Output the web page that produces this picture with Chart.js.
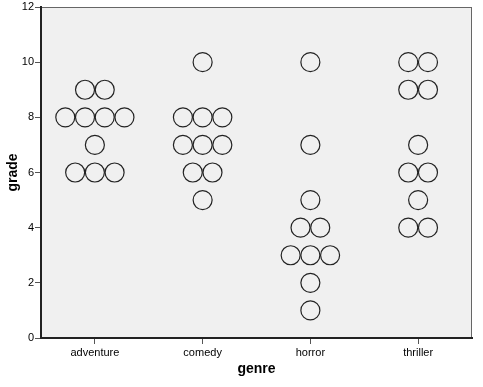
<!DOCTYPE html>
<html>
<head>
<meta charset="utf-8">
<script src="https://cdn.jsdelivr.net/npm/chart.js@4"></script>
<style>
  html, body { margin: 0; padding: 0; background: #fff; }
  #wrap { width: 483px; height: 387px; }
</style>
</head>
<body>
<div id="wrap"><canvas id="myChart"></canvas></div>
<script>
var genres = ['adventure', 'comedy', 'horror', 'thriller'];
var adventureGrades = [9, 9, 8, 8, 8, 8, 7, 6, 6, 6];
var comedyGrades = [10, 8, 8, 8, 7, 7, 7, 6, 6, 5];
var horrorGrades = [10, 7, 5, 4, 4, 3, 3, 3, 2, 1];
var thrillerGrades = [10, 10, 9, 9, 7, 6, 6, 5, 4, 4];
var gradeTicks = [0, 2, 4, 6, 8, 10, 12];

var allGrades = [adventureGrades, comedyGrades, horrorGrades, thrillerGrades];
var DOT_STEP = 0.183; // horizontal spacing between stacked dots, in category units

// build dot positions: dots with the same grade sit side by side, centred on the genre
function buildPoints() {
    var pts = [];
    allGrades.forEach(function(grades, gi){
        var counts = {};
        grades.forEach(function(g){ counts[g] = (counts[g] || 0) + 1; });
        Object.keys(counts).forEach(function(g){
            var n = counts[g];
            for (var i = 0; i < n; i++) {
                pts.push({ x: gi + 1 + (i - (n - 1) / 2) * DOT_STEP, y: Number(g) });
            }
        });
    });
    return pts;
}

var plotBg = {
    id: 'plotBg',
    beforeDraw: function(chart){
        var a = chart.chartArea, ctx = chart.ctx;
        ctx.save();
        ctx.fillStyle = '#f0f0f0';
        ctx.fillRect(a.left, a.top, a.right - a.left, a.bottom - a.top);
        ctx.strokeStyle = '#666';
        ctx.lineWidth = 1;
        ctx.strokeRect(a.left + 0.5, a.top + 0.5, a.right - a.left - 1, a.bottom - a.top - 1);
        ctx.restore();
    }
};

var CHART = document.getElementById('myChart');
Chart.defaults.font.family = "'Liberation Sans', Arial, sans-serif";
Chart.defaults.color = '#000';

var myChart = new Chart(CHART, {
    type: 'scatter',
    data: {
        datasets: [{
            label: 'grade',
            data: buildPoints(),
            pointRadius: 9.5,
            pointHoverRadius: 9.5,
            pointBorderWidth: 1.2,
            pointBorderColor: '#222',
            pointBackgroundColor: 'rgba(0,0,0,0)'
        }]
    },
    plugins: [plotBg],
    options: {
        responsive: true,
        maintainAspectRatio: false,
        animation: false,
        layout: { autoPadding: false, padding: { top: 7, right: 11, left: 3, bottom: 9 } },
        plugins: {
            legend: { display: false },
            tooltip: { enabled: false }
        },
        scales: {
            x: {
                type: 'linear',
                min: 0.5,
                max: 4.5,
                afterBuildTicks: function(scale){
                    scale.ticks = genres.map(function(g, i){ return { value: i + 1 }; });
                },
                afterFit: function(scale){ scale.height = 40; },
                ticks: {
                    font: { size: 11 },
                    padding: 2,
                    maxRotation: 0,
                    callback: function(v){ return genres[Math.round(v) - 1]; }
                },
                grid: {
                    drawOnChartArea: false,
                    drawTicks: true,
                    tickLength: 6,
                    color: '#555'
                },
                border: { display: true, color: '#222', width: 2 },
                title: {
                    display: true,
                    text: 'genre',
                    font: { size: 14, weight: 'bold' },
                    padding: { top: 2, bottom: 0 }
                }
            },
            y: {
                min: 0,
                max: 12,
                afterBuildTicks: function(scale){
                    scale.ticks = gradeTicks.map(function(v){ return { value: v }; });
                },
                afterFit: function(scale){
                    scale.width = 38;
                    scale.paddingTop = 0;
                    scale.paddingBottom = 0;
                },
                ticks: {
                    font: { size: 11 },
                    padding: 1
                },
                grid: {
                    drawOnChartArea: false,
                    drawTicks: true,
                    tickLength: 6,
                    color: '#555'
                },
                border: { display: true, color: '#222', width: 2 },
                title: {
                    display: true,
                    text: 'grade',
                    font: { size: 14, weight: 'bold' },
                    padding: { top: 2, bottom: 0 }
                }
            }
        }
    }
});
</script>
</body>
</html>
